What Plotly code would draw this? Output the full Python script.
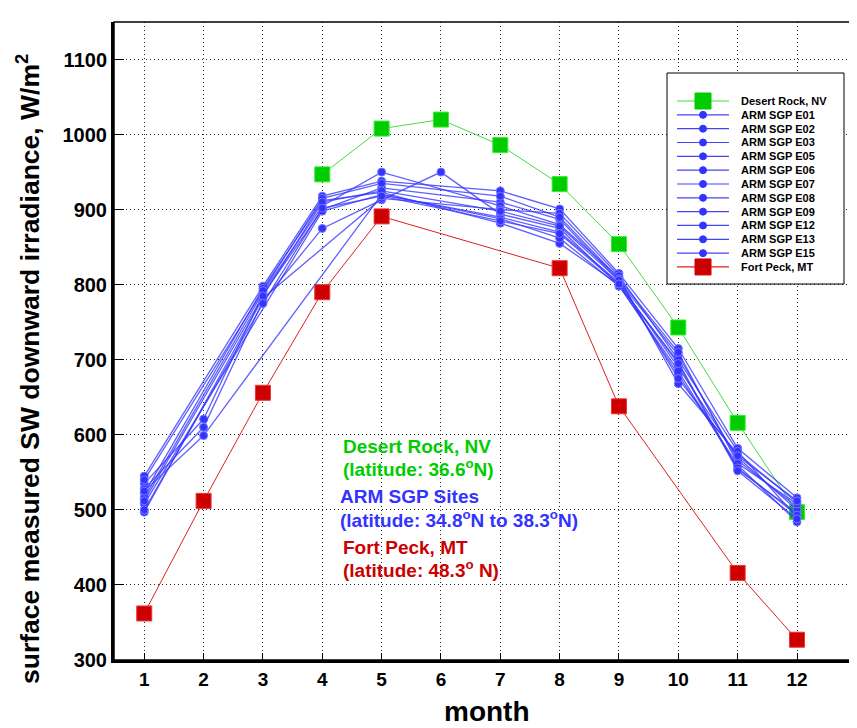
import plotly.graph_objects as go

months = list(range(1, 13))

desert_rock = [None, None, None, 947, 1008, 1020, 986, 934, 854, 743, 616, 497]
fort_peck = [362, 512, 656, 790, 891, None, None, 822, 638, None, 416, 327]

arm_names = ["ARM SGP E01", "ARM SGP E02", "ARM SGP E03", "ARM SGP E05", "ARM SGP E06",
             "ARM SGP E07", "ARM SGP E08", "ARM SGP E09", "ARM SGP E12", "ARM SGP E13",
             "ARM SGP E15"]
arm_E01 = [545, None, 798, 918, 938, None, 925, 901, 815, 715, 582, 516]
arm_E02 = [535, 621, 787, 900, 929, None, 910, 887, 805, 706, 566, 504]
arm_E03 = [528, 610, 778, 875, 913, 950, 894, 875, 799, 697, 554, 496]
arm_E05 = [522, None, 795, 912, 923, None, 882, 855, 800, 680, 560, 484]
arm_E06 = [516, None, 790, 905, 950, None, 905, 880, 810, 668, 575, 510]
arm_E07 = [508, None, None, 898, 920, None, 890, 870, 803, 690, 570, 500]
arm_E08 = [497, None, 782, None, 915, None, 900, 895, 812, 700, 578, 490]
arm_E09 = [540, None, 792, 915, 935, None, 918, 890, 808, 710, 562, 508]
arm_E12 = [525, 599, None, None, 920, None, 888, 862, 798, 685, 556, 493]
arm_E13 = [512, None, 785, 910, 925, None, 898, 878, 806, 675, 572, 512]
arm_E15 = [500, None, 775, 902, 918, None, 885, 868, 801, 695, 552, 488]
arm_series = [arm_E01, arm_E02, arm_E03, arm_E05, arm_E06, arm_E07, arm_E08,
              arm_E09, arm_E12, arm_E13, arm_E15]

y_ticks = [300, 400, 500, 600, 700, 800, 900, 1000, 1100]

FONT = "Liberation Sans, Arial, sans-serif"
GREEN_M, GREEN_L = "#00cc00", "#44dd44"
BLUE_M, BLUE_L = "#3333ff", "rgba(55,55,255,0.8)"
RED_M, RED_L = "#cc0000", "#dd2222"

# screen-pixel plot box (page has an 8px body margin)
PX_L, PX_R, PX_T, PX_B = 114, 851, 22, 660
W, H = 857, 728
OFF = 8


def px_x(px):
    return (px - PX_L) / float(PX_R - PX_L)


def px_y(py):
    return (PX_B - py) / float(PX_B - PX_T)


fig = go.Figure()
fig.add_trace(go.Scatter(
    x=months, y=desert_rock, name="Desert Rock, NV", mode="lines+markers",
    connectgaps=True, line=dict(color=GREEN_L, width=1),
    marker=dict(symbol="square", size=15, color=GREEN_M,
                line=dict(color="#33ee33", width=1))))
for name, vals in zip(arm_names, arm_series):
    fig.add_trace(go.Scatter(
        x=months, y=vals, name=name, mode="lines+markers", connectgaps=True,
        line=dict(color=BLUE_L, width=1.3),
        marker=dict(symbol="circle", size=8, color=BLUE_M,
                    line=dict(color="#7777ff", width=1))))
fig.add_trace(go.Scatter(
    x=months, y=fort_peck, name="Fort Peck, MT", mode="lines+markers",
    connectgaps=True, line=dict(color=RED_L, width=1),
    marker=dict(symbol="square", size=15, color=RED_M,
                line=dict(color="#ee3333", width=1))))


def ann(text, x, y, color, size=19, xanchor="left", angle=0):
    fig.add_annotation(text=text, x=x, y=y, xref="paper", yref="paper",
                       xanchor=xanchor, yanchor="middle", showarrow=False,
                       textangle=angle,
                       font=dict(family=FONT, size=size, color=color, weight="bold"))


ann("Desert Rock, NV", px_x(341), px_y(446), GREEN_M)
ann("(latitude: 36.6<sup>o</sup>N)", px_x(341), px_y(468), GREEN_M)
ann("ARM SGP Sites", px_x(338), px_y(497), BLUE_M)
ann("(latitude: 34.8<sup>o</sup>N to 38.3<sup>o</sup>N)", px_x(338), px_y(519), BLUE_M)
ann("Fort Peck, MT", px_x(341), px_y(547), RED_M)
ann("(latitude: 48.3<sup>o</sup> N)", px_x(341), px_y(569), RED_M)

# axis titles
ann("month", px_x(487), px_y(711), "black", size=28, xanchor="center")
ann("surface measured SW downward irradiance, W/m<sup>2</sup>", px_x(28), px_y(369),
    "black", size=26.5, xanchor="center", angle=-90)

# manual legend
legend_entries = [("Desert Rock, NV", GREEN_L, GREEN_M, "rect", 8)]
legend_entries += [(n, "#4444ff", BLUE_M, "circle", 3.5) for n in arm_names]
legend_entries += [("Fort Peck, MT", RED_L, RED_M, "rect", 8)]

fig.add_shape(type="rect", xref="paper", yref="paper",
              x0=px_x(667), x1=px_x(844), y0=px_y(284), y1=px_y(73),
              line=dict(color="black", width=1), fillcolor="white", layer="above")
for i, (lab, lc, mc, sym, half) in enumerate(legend_entries):
    yy = 101 + i * 13.83
    fig.add_shape(type="line", xref="paper", yref="paper",
                  x0=px_x(677), x1=px_x(729), y0=px_y(yy), y1=px_y(yy),
                  line=dict(color=lc, width=1.2), layer="above")
    fig.add_shape(type=sym, xref="paper", yref="paper",
                  xsizemode="pixel", ysizemode="pixel",
                  xanchor=px_x(703), yanchor=px_y(yy),
                  x0=-half, x1=half, y0=-half, y1=half,
                  line=dict(color=mc, width=1), fillcolor=mc, layer="above")
    fig.add_annotation(text=lab, x=px_x(739), y=px_y(yy), xref="paper", yref="paper",
                       xanchor="left", yanchor="middle", showarrow=False,
                       font=dict(family=FONT, size=11, color="black", weight="bold"))

# thin frame (top/right)
fig.add_shape(type="rect", xref="paper", yref="paper", x0=0, y0=0, x1=1, y1=1,
              line=dict(color="black", width=1.5), layer="above")

GRID_DASH = "1px,3px"

fig.update_layout(
    width=W, height=H,
    margin=dict(l=PX_L - OFF, r=W - (PX_R - OFF), t=PX_T - OFF, b=H - (PX_B - OFF)),
    plot_bgcolor="white", paper_bgcolor="white",
    font=dict(family=FONT, color="black"),
    showlegend=False,
    xaxis=dict(range=[0.49, 12.91], tickmode="array", tickvals=months,
               ticktext=[str(m) for m in months], automargin=False,
               showgrid=True, gridcolor="#222222", griddash=GRID_DASH, gridwidth=1,
               zeroline=False, showline=True, linecolor="black", linewidth=3,
               ticks="inside", ticklen=7, tickcolor="black", mirror=False,
               tickfont=dict(family=FONT, size=19, color="black", weight="bold")),
    yaxis=dict(range=[300, 1150], tickmode="array", tickvals=y_ticks,
               ticktext=[str(v) for v in y_ticks], automargin=False,
               showgrid=True, gridcolor="#222222", griddash=GRID_DASH, gridwidth=1,
               zeroline=False, showline=True, linecolor="black", linewidth=3,
               ticks="inside", ticklen=10, tickcolor="black", mirror=False,
               tickfont=dict(family=FONT, size=20, color="black", weight="bold")),
    yaxis2=dict(range=[300, 1150], overlaying="y", side="right", tickmode="array",
                tickvals=y_ticks, showticklabels=False, showgrid=False, zeroline=False,
                showline=False, ticks="inside", ticklen=8, tickcolor="black",
                automargin=False),
)

fig.write_html("out.html")
